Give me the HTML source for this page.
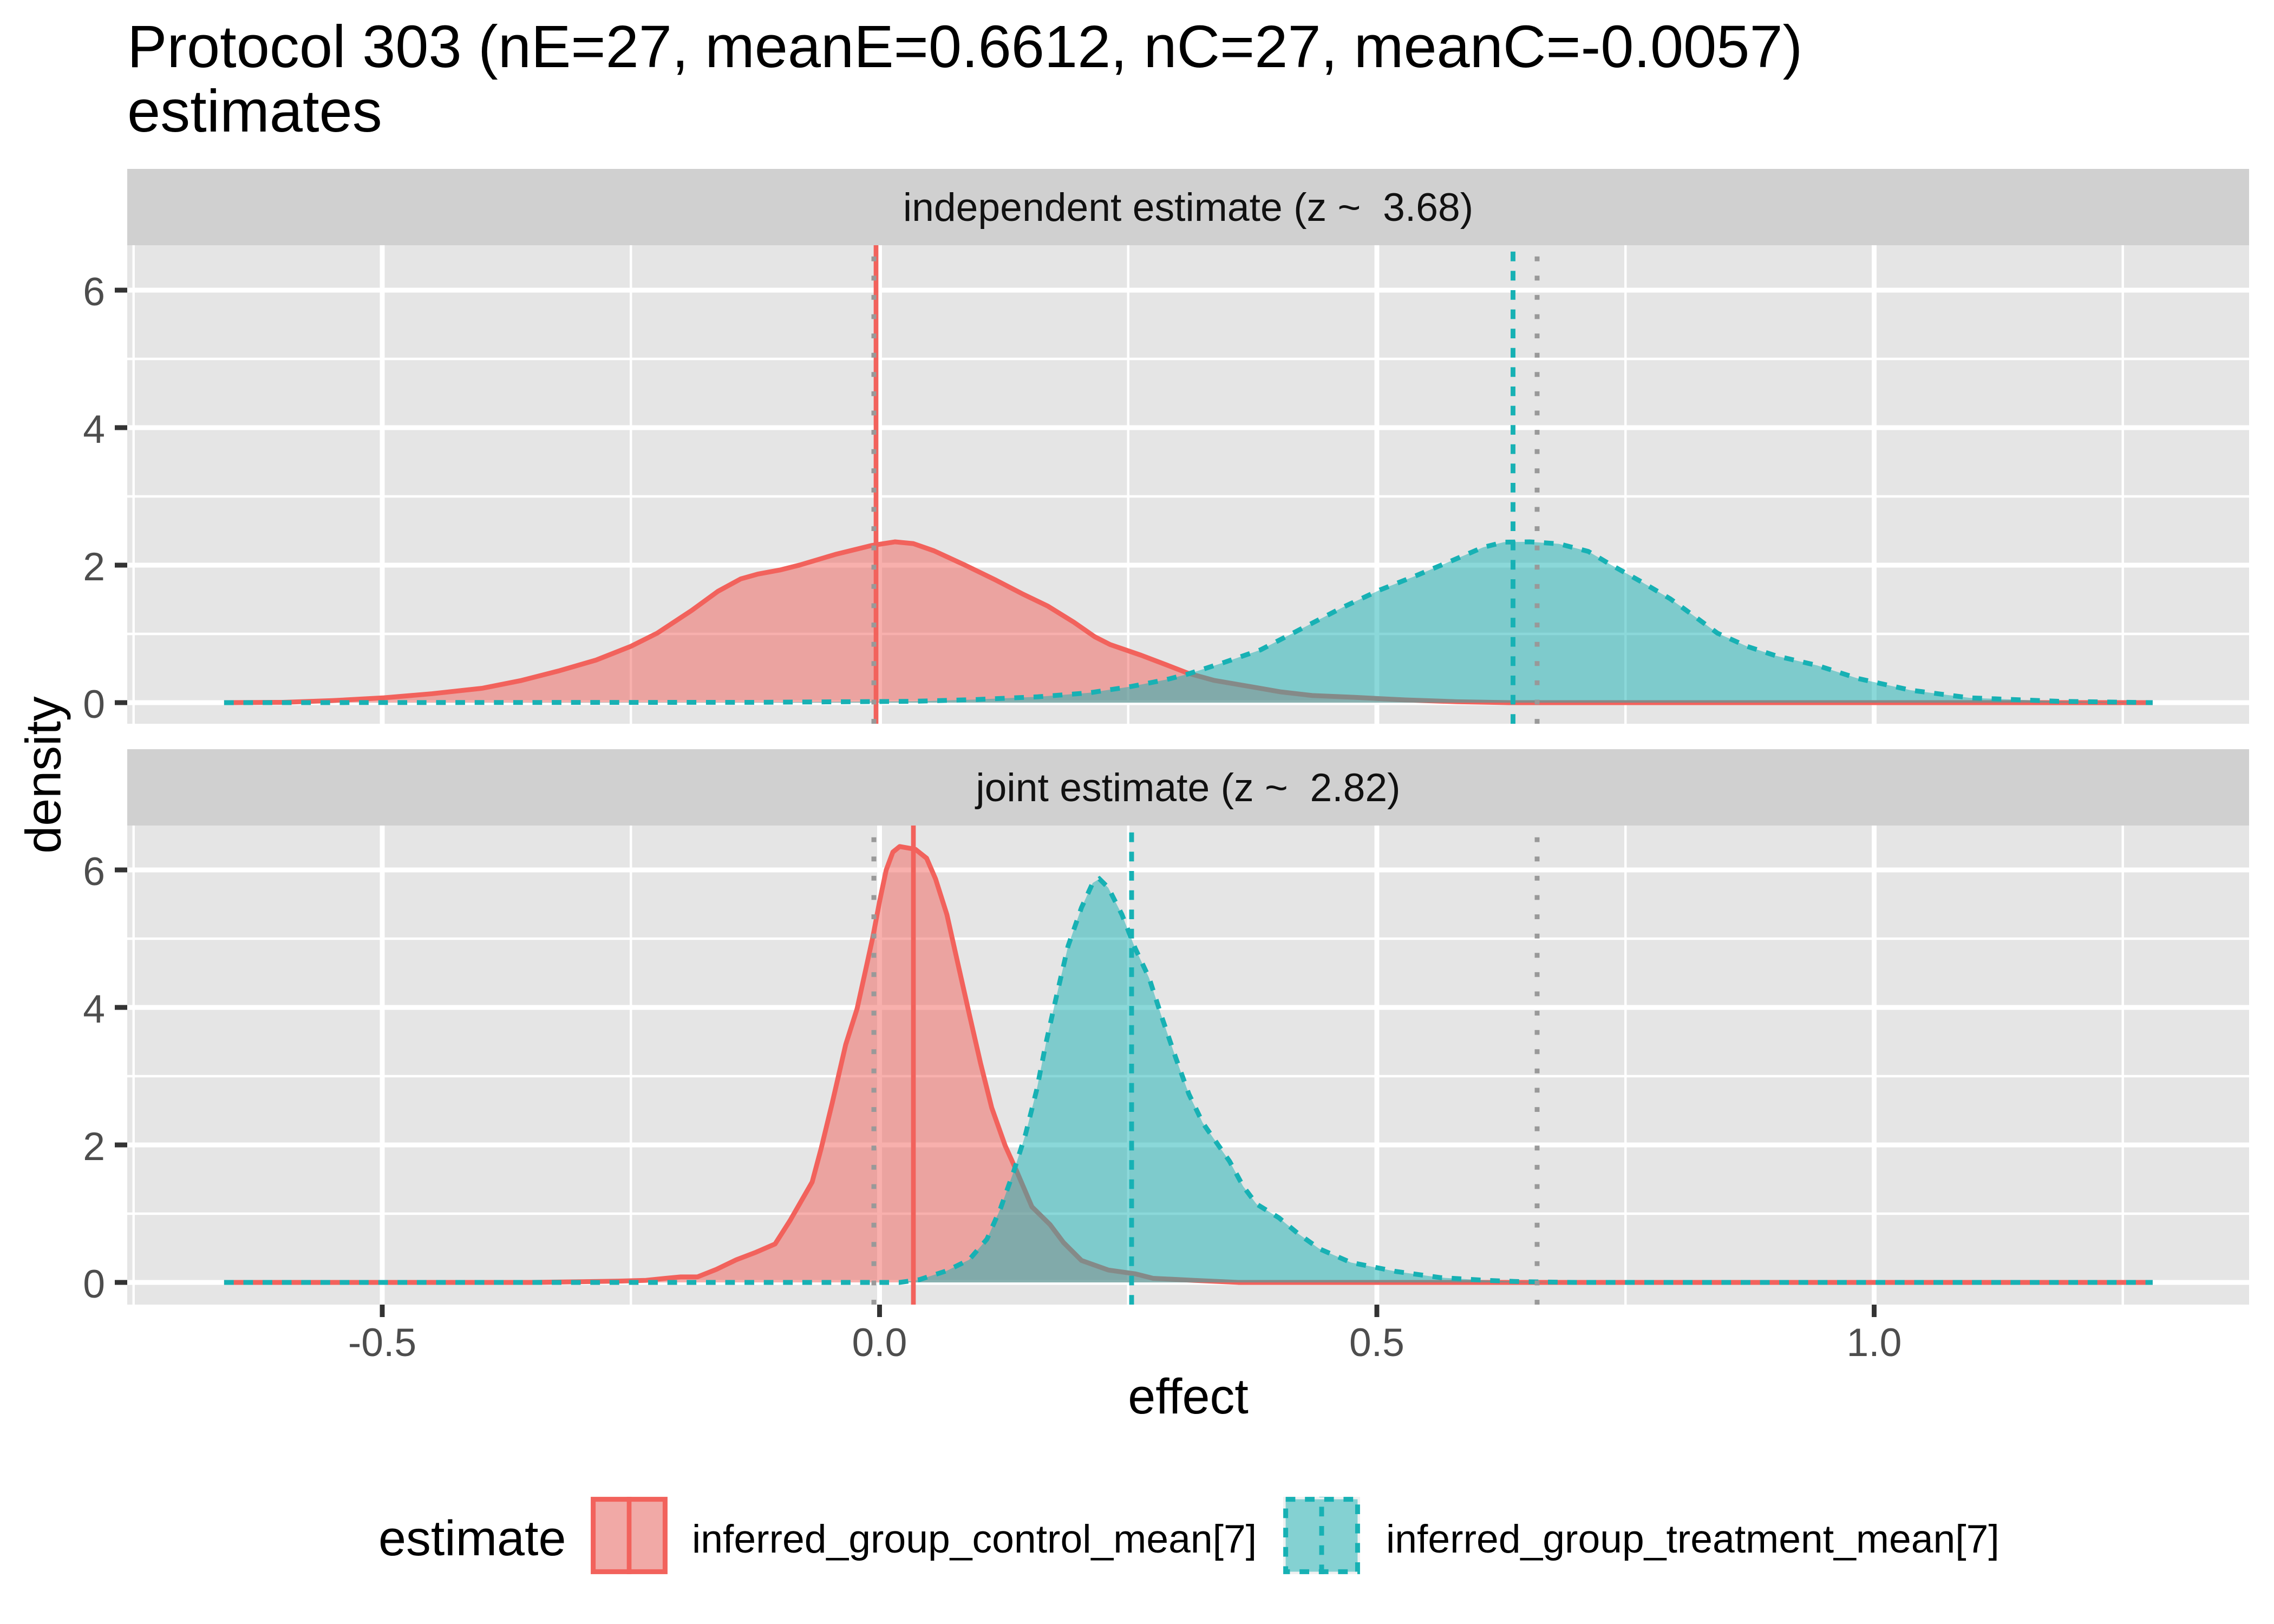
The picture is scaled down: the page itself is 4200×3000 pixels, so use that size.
<!DOCTYPE html>
<html><head><meta charset="utf-8"><style>
html,body{margin:0;padding:0;background:#fff}
svg{display:block}
text{font-family:"Liberation Sans",Arial,sans-serif}
</style></head><body>
<svg width="4200" height="3000" viewBox="0 0 4200 3000" xmlns="http://www.w3.org/2000/svg">
<defs>
<clipPath id="cu"><rect x="235" y="453" width="3919" height="884"/></clipPath>
<clipPath id="cl"><rect x="235" y="1525" width="3919" height="885"/></clipPath>
</defs>
<rect x="0" y="0" width="4200" height="3000" fill="#fff"/>
<text x="235" y="124" font-size="110" fill="#000">Protocol 303 (nE=27, meanE=0.6612, nC=27, meanC=-0.0057)</text>
<text x="235" y="243" font-size="110" fill="#000">estimates</text>

<!-- strips -->
<rect x="235" y="312" width="3919" height="141" fill="#D0D0D0"/>
<text x="2194.5" y="408" font-size="73.3" fill="#111111" text-anchor="middle" style="white-space:pre">independent estimate (z ~  3.68)</text>
<rect x="235" y="1384" width="3919" height="141" fill="#D0D0D0"/>
<text x="2194.5" y="1480" font-size="73.3" fill="#111111" text-anchor="middle" style="white-space:pre">joint estimate (z ~  2.82)</text>

<!-- upper panel -->
<rect x="235" y="453" width="3919" height="884" fill="#E5E5E5"/>
<g stroke="#fff" stroke-width="4.4">
<line x1="235" x2="4154" y1="1171" y2="1171"/><line x1="235" x2="4154" y1="917" y2="917"/><line x1="235" x2="4154" y1="663" y2="663"/>
<line x1="246.75" x2="246.75" y1="453" y2="1337"/><line x1="1165.25" x2="1165.25" y1="453" y2="1337"/><line x1="2083.75" x2="2083.75" y1="453" y2="1337"/><line x1="3002.25" x2="3002.25" y1="453" y2="1337"/><line x1="3920.75" x2="3920.75" y1="453" y2="1337"/>
</g>
<g stroke="#fff" stroke-width="8.9">
<line x1="235" x2="4154" y1="1298" y2="1298"/><line x1="235" x2="4154" y1="1044" y2="1044"/><line x1="235" x2="4154" y1="790" y2="790"/><line x1="235" x2="4154" y1="536" y2="536"/>
<line x1="706" x2="706" y1="453" y2="1337"/><line x1="1624.5" x2="1624.5" y1="453" y2="1337"/><line x1="2543" x2="2543" y1="453" y2="1337"/><line x1="3461.5" x2="3461.5" y1="453" y2="1337"/>
</g>
<g clip-path="url(#cu)" stroke-linejoin="round">
<path d="M413.9,1298 L522.3,1297.4 L614.2,1294.2 L708.8,1289.1 L797.9,1281.5 L891.5,1271.3 L961.3,1257.4 L1031.1,1239.6 L1101,1219.3 L1165.3,1193.9 L1213.7,1169.7 L1277.3,1127.8 L1326,1092.3 L1368.1,1069.4 L1399.7,1060.5 L1440.8,1052.9 L1476.3,1044 L1543.1,1024.1 L1610.2,1007.6 L1653.2,1000.9 L1686.8,1004.2 L1725,1017.5 L1782.5,1044 L1839.8,1071.9 L1887.7,1096.7 L1935.5,1119.8 L1983.3,1149.4 L2021.7,1176.1 L2050.3,1190.7 L2107.8,1210.5 L2155.6,1228.7 L2193.8,1243.5 L2241.7,1256.7 L2308.8,1268.3 L2366.1,1278.2 L2423.6,1284.8 L2500,1288.1 L2595.7,1293 L2691.4,1296.3 L2787.3,1298 L3975.9,1298" fill="#F2625C" fill-opacity="0.5" stroke="none"/>
<path d="M413.9,1298 L522.3,1297.4 L614.2,1294.2 L708.8,1289.1 L797.9,1281.5 L891.5,1271.3 L961.3,1257.4 L1031.1,1239.6 L1101,1219.3 L1165.3,1193.9 L1213.7,1169.7 L1277.3,1127.8 L1326,1092.3 L1368.1,1069.4 L1399.7,1060.5 L1440.8,1052.9 L1476.3,1044 L1543.1,1024.1 L1610.2,1007.6 L1653.2,1000.9 L1686.8,1004.2 L1725,1017.5 L1782.5,1044 L1839.8,1071.9 L1887.7,1096.7 L1935.5,1119.8 L1983.3,1149.4 L2021.7,1176.1 L2050.3,1190.7 L2107.8,1210.5 L2155.6,1228.7 L2193.8,1243.5 L2241.7,1256.7 L2308.8,1268.3 L2366.1,1278.2 L2423.6,1284.8 L2500,1288.1 L2595.7,1293 L2691.4,1296.3 L2787.3,1298 L3975.9,1298" fill="none" stroke="#F2625C" stroke-width="8.9"/>
<path d="M413.9,1298 L1399.7,1297.4 L1686.8,1295.5 L1801.6,1292.3 L1916.4,1287.2 L2012.1,1279.8 L2088.5,1268.3 L2155.6,1255.1 L2193.8,1245.2 L2260.8,1223.7 L2327.9,1200.6 L2385.2,1171 L2433.1,1146.2 L2480.9,1121.5 L2548,1090.1 L2614.8,1063.7 L2681.9,1035.6 L2739.4,1011 L2777.6,1001.5 L2825.3,1000.9 L2879.2,1004.6 L2933.5,1018.6 L2976.5,1044 L3031.1,1074.5 L3084.9,1106.2 L3129,1138 L3172.2,1169.7 L3226.4,1193.9 L3280.6,1211.6 L3356.8,1229.4 L3432.1,1253.5 L3529.5,1275.1 L3637.9,1289.1 L3801.3,1295.5 L3975.9,1298" fill="#17B1B4" fill-opacity="0.5" stroke="none"/>
<path d="M413.9,1298 L1399.7,1297.4 L1686.8,1295.5 L1801.6,1292.3 L1916.4,1287.2 L2012.1,1279.8 L2088.5,1268.3 L2155.6,1255.1 L2193.8,1245.2 L2260.8,1223.7 L2327.9,1200.6 L2385.2,1171 L2433.1,1146.2 L2480.9,1121.5 L2548,1090.1 L2614.8,1063.7 L2681.9,1035.6 L2739.4,1011 L2777.6,1001.5 L2825.3,1000.9 L2879.2,1004.6 L2933.5,1018.6 L2976.5,1044 L3031.1,1074.5 L3084.9,1106.2 L3129,1138 L3172.2,1169.7 L3226.4,1193.9 L3280.6,1211.6 L3356.8,1229.4 L3432.1,1253.5 L3529.5,1275.1 L3637.9,1289.1 L3801.3,1295.5 L3975.9,1298" fill="none" stroke="#17B1B4" stroke-width="8.9" stroke-dasharray="17.8 17.8" stroke-linejoin="miter"/>
<line x1="1618" x2="1618" y1="453" y2="1337" stroke="#F2625C" stroke-width="8.7"/>
<line x1="2794.5" x2="2794.5" y1="1337" y2="453" stroke="#17B1B4" stroke-width="8.9" stroke-dasharray="17.8 17.8"/>
<line x1="1614" x2="1614" y1="1337" y2="453" stroke="#999999" stroke-width="8.9" stroke-dasharray="8.9 26.7"/>
<line x1="2839" x2="2839" y1="1337" y2="453" stroke="#999999" stroke-width="8.9" stroke-dasharray="8.9 26.7"/>
</g>

<!-- lower panel -->
<rect x="235" y="1525" width="3919" height="885" fill="#E5E5E5"/>
<g stroke="#fff" stroke-width="4.4">
<line x1="235" x2="4154" y1="2242" y2="2242"/><line x1="235" x2="4154" y1="1988" y2="1988"/><line x1="235" x2="4154" y1="1734" y2="1734"/>
<line x1="246.75" x2="246.75" y1="1525" y2="2410"/><line x1="1165.25" x2="1165.25" y1="1525" y2="2410"/><line x1="2083.75" x2="2083.75" y1="1525" y2="2410"/><line x1="3002.25" x2="3002.25" y1="1525" y2="2410"/><line x1="3920.75" x2="3920.75" y1="1525" y2="2410"/>
</g>
<g stroke="#fff" stroke-width="8.9">
<line x1="235" x2="4154" y1="2369" y2="2369"/><line x1="235" x2="4154" y1="2115" y2="2115"/><line x1="235" x2="4154" y1="1861" y2="1861"/><line x1="235" x2="4154" y1="1607" y2="1607"/>
<line x1="706" x2="706" y1="1525" y2="2410"/><line x1="1624.5" x2="1624.5" y1="1525" y2="2410"/><line x1="2543" x2="2543" y1="1525" y2="2410"/><line x1="3461.5" x2="3461.5" y1="1525" y2="2410"/>
</g>
<g clip-path="url(#cl)" stroke-linejoin="round">
<path d="M413.9,2369 L981.5,2369 L1073.4,2367.7 L1146.9,2366.5 L1192.8,2365.2 L1229.5,2361.4 L1257.1,2358.8 L1288.3,2358.8 L1323.2,2344.9 L1360,2327.1 L1396.7,2313.1 L1431.6,2297.9 L1459.2,2254.7 L1500,2183.6 L1516.7,2121.3 L1537.1,2037.5 L1562,1929.6 L1583,1863.5 L1599.5,1788.6 L1612,1731.5 L1624.5,1665.4 L1636.8,1607 L1649.1,1574 L1661.6,1563.8 L1690.6,1568.9 L1711.4,1585.4 L1727.9,1623.5 L1748.9,1689.5 L1769.4,1781 L1790,1872.4 L1811,1963.9 L1831.7,2046.4 L1856.5,2116.3 L1877.1,2162 L1905.9,2229.3 L1939.5,2262.3 L1964.3,2295.3 L1997.4,2328.4 L2047,2346.1 L2096.6,2353.1 L2129.7,2361.4 L2205,2365.2 L2287.7,2369 L3975.9,2369" fill="#F2625C" fill-opacity="0.5" stroke="none"/>
<path d="M413.9,2369 L981.5,2369 L1073.4,2367.7 L1146.9,2366.5 L1192.8,2365.2 L1229.5,2361.4 L1257.1,2358.8 L1288.3,2358.8 L1323.2,2344.9 L1360,2327.1 L1396.7,2313.1 L1431.6,2297.9 L1459.2,2254.7 L1500,2183.6 L1516.7,2121.3 L1537.1,2037.5 L1562,1929.6 L1583,1863.5 L1599.5,1788.6 L1612,1731.5 L1624.5,1665.4 L1636.8,1607 L1649.1,1574 L1661.6,1563.8 L1690.6,1568.9 L1711.4,1585.4 L1727.9,1623.5 L1748.9,1689.5 L1769.4,1781 L1790,1872.4 L1811,1963.9 L1831.7,2046.4 L1856.5,2116.3 L1877.1,2162 L1905.9,2229.3 L1939.5,2262.3 L1964.3,2295.3 L1997.4,2328.4 L2047,2346.1 L2096.6,2353.1 L2129.7,2361.4 L2205,2365.2 L2287.7,2369 L3975.9,2369" fill="none" stroke="#F2625C" stroke-width="8.9"/>
<path d="M413.9,2369 L1661.2,2369 L1698,2363.9 L1748.9,2347.4 L1790,2327.1 L1822.9,2289 L1848.1,2231.8 L1872.5,2163.3 L1894,2095.9 L1914.7,2013.4 L1931.3,1929.6 L1951.5,1839.4 L1972.6,1748 L1997.4,1676.8 L2018.2,1631.1 L2030.5,1623.5 L2047,1640 L2072.2,1689.5 L2096.6,1751.8 L2122.3,1806.4 L2146.2,1880 L2171.9,1955 L2195.8,2021 L2221.5,2074.4 L2245.4,2108.6 L2271.1,2145.5 L2295.9,2191.2 L2320.7,2224.2 L2362.1,2249.6 L2396,2277.6 L2436.5,2306.8 L2495.2,2332.2 L2577.9,2348.7 L2660.6,2360.1 L2745.1,2365.2 L2811.2,2367.7 L2910.4,2369 L3975.9,2369" fill="#17B1B4" fill-opacity="0.5" stroke="none"/>
<path d="M413.9,2369 L1661.2,2369 L1698,2363.9 L1748.9,2347.4 L1790,2327.1 L1822.9,2289 L1848.1,2231.8 L1872.5,2163.3 L1894,2095.9 L1914.7,2013.4 L1931.3,1929.6 L1951.5,1839.4 L1972.6,1748 L1997.4,1676.8 L2018.2,1631.1 L2030.5,1623.5 L2047,1640 L2072.2,1689.5 L2096.6,1751.8 L2122.3,1806.4 L2146.2,1880 L2171.9,1955 L2195.8,2021 L2221.5,2074.4 L2245.4,2108.6 L2271.1,2145.5 L2295.9,2191.2 L2320.7,2224.2 L2362.1,2249.6 L2396,2277.6 L2436.5,2306.8 L2495.2,2332.2 L2577.9,2348.7 L2660.6,2360.1 L2745.1,2365.2 L2811.2,2367.7 L2910.4,2369 L3975.9,2369" fill="none" stroke="#17B1B4" stroke-width="8.9" stroke-dasharray="17.8 17.8" stroke-linejoin="miter"/>
<line x1="1687" x2="1687" y1="1525" y2="2410" stroke="#F2625C" stroke-width="8.7"/>
<line x1="2090" x2="2090" y1="2410" y2="1525" stroke="#17B1B4" stroke-width="8.9" stroke-dasharray="17.8 17.8"/>
<line x1="1614" x2="1614" y1="2410" y2="1525" stroke="#999999" stroke-width="8.9" stroke-dasharray="8.9 26.7"/>
<line x1="2839" x2="2839" y1="2410" y2="1525" stroke="#999999" stroke-width="8.9" stroke-dasharray="8.9 26.7"/>
</g>

<!-- axes -->
<g stroke="#333333" stroke-width="8.9">
<line x1="212" x2="235" y1="1298" y2="1298"/><line x1="212" x2="235" y1="1044" y2="1044"/><line x1="212" x2="235" y1="790" y2="790"/><line x1="212" x2="235" y1="536" y2="536"/>
<line x1="212" x2="235" y1="2369" y2="2369"/><line x1="212" x2="235" y1="2115" y2="2115"/><line x1="212" x2="235" y1="1861" y2="1861"/><line x1="212" x2="235" y1="1607" y2="1607"/>
<line x1="706" x2="706" y1="2410" y2="2433"/><line x1="1624.5" x2="1624.5" y1="2410" y2="2433"/><line x1="2543" x2="2543" y1="2410" y2="2433"/><line x1="3461.5" x2="3461.5" y1="2410" y2="2433"/>
</g>
<g font-size="73.3" fill="#4D4D4D" text-anchor="end">
<text x="194" y="1326">0</text><text x="194" y="1072">2</text><text x="194" y="818">4</text><text x="194" y="564">6</text>
<text x="194" y="2397">0</text><text x="194" y="2143">2</text><text x="194" y="1889">4</text><text x="194" y="1635">6</text>
</g>
<g font-size="73.3" fill="#4D4D4D" text-anchor="middle">
<text x="706" y="2505">-0.5</text><text x="1624.5" y="2505">0.0</text><text x="2543" y="2505">0.5</text><text x="3461.5" y="2505">1.0</text>
</g>
<text x="2194.5" y="2611" font-size="91.7" fill="#000" text-anchor="middle">effect</text>
<text transform="translate(111.5,1431.5) rotate(-90)" font-size="91.7" fill="#000" text-anchor="middle">density</text>

<!-- legend -->
<text x="699" y="2873" font-size="91.7" fill="#000">estimate</text>
<rect x="1091" y="2765" width="142" height="143" fill="#F0F0F0"/>
<rect x="1095.6" y="2769.6" width="132.8" height="133.8" fill="#F2625C" fill-opacity="0.5" stroke="#F2625C" stroke-width="9"/>
<line x1="1162" x2="1162" y1="2765" y2="2908" stroke="#F2625C" stroke-width="8.7"/>
<text x="1278" y="2868" font-size="73.3" fill="#000">inferred_group_control_mean[7]</text>
<rect x="2370" y="2765" width="142" height="143" fill="#F0F0F0"/>
<rect x="2374.6" y="2769.6" width="132.8" height="133.8" fill="#17B1B4" fill-opacity="0.5" stroke="#17B1B4" stroke-width="9" stroke-dasharray="17.8 17.8"/>
<line x1="2441" x2="2441" y1="2908" y2="2765" stroke="#17B1B4" stroke-width="8.9" stroke-dasharray="17.8 17.8"/>
<text x="2560" y="2868" font-size="73.3" fill="#000">inferred_group_treatment_mean[7]</text>
</svg>
</body></html>
